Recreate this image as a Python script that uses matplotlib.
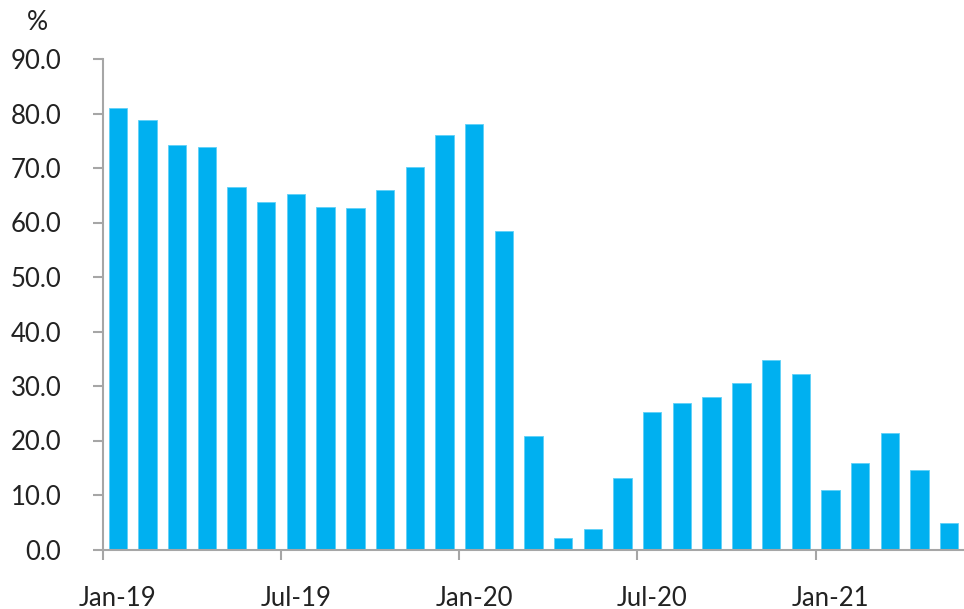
import matplotlib
matplotlib.use("Agg")
import matplotlib.pyplot as plt
import numpy as np

months = ["Jan-19", "Feb-19", "Mar-19", "Apr-19", "May-19", "Jun-19", "Jul-19", "Aug-19",
          "Sep-19", "Oct-19", "Nov-19", "Dec-19", "Jan-20", "Feb-20", "Mar-20", "Apr-20",
          "May-20", "Jun-20", "Jul-20", "Aug-20", "Sep-20", "Oct-20", "Nov-20", "Dec-20",
          "Jan-21", "Feb-21", "Mar-21", "Apr-21", "May-21"]
values = [81.0, 78.8, 74.3, 73.9, 66.6, 63.7, 65.3, 62.8, 62.7, 66.0, 70.2, 76.0, 78.0,
          58.4, 20.8, 2.1, 3.7, 13.2, 25.2, 26.8, 27.9, 30.5, 34.8, 32.2, 10.9, 15.9,
          21.4, 14.5, 4.9]
label_months = ["Jan-19", "Jul-19", "Jan-20", "Jul-20", "Jan-21"]
yticks = [0, 10, 20, 30, 40, 50, 60, 70, 80, 90]

plt.rcParams['font.family'] = ['Lato', 'DejaVu Sans']

fig = plt.figure(figsize=(9.64, 6.09), dpi=100)
ax = fig.add_axes([103/964, (609-549.5)/609, (964-103)/964, (549.5-59)/609])

x = np.arange(len(months))
ax.bar(x, values, width=0.62, color="#00b0f0", edgecolor="#5fd0f7", linewidth=0.6, zorder=2)

ax.set_xlim(-0.5, len(months) - 0.5)
ax.set_ylim(0, 90)

axis_col = "#a6a6a6"
for s in ["top", "right"]:
    ax.spines[s].set_visible(False)
for s in ["left", "bottom"]:
    ax.spines[s].set_color(axis_col)
    ax.spines[s].set_linewidth(1.5)

txt_col = "#222222"
ax.set_yticks(yticks)
ax.set_yticklabels([f"{v:.1f}" for v in yticks])
ax.tick_params(axis="y", length=7, width=1.5, color=axis_col, pad=23,
               labelsize=18.5, labelcolor=txt_col)

lab_pos = [months.index(m) for m in label_months]
ax.set_xticks([p - 0.5 for p in lab_pos])
ax.set_xticklabels([])
ax.tick_params(axis="x", which="major", length=7, width=1.5, color=axis_col)
ax.set_xticks(lab_pos, minor=True)
ax.set_xticklabels(label_months, minor=True)
ax.tick_params(axis="x", which="minor", length=0, pad=26, labelsize=18.5,
               labelcolor=txt_col)

fig.text(37/964, 1 - 23/609, "%", fontsize=19, color=txt_col, ha="center", va="center")

fig.savefig("out.png", dpi=100)
